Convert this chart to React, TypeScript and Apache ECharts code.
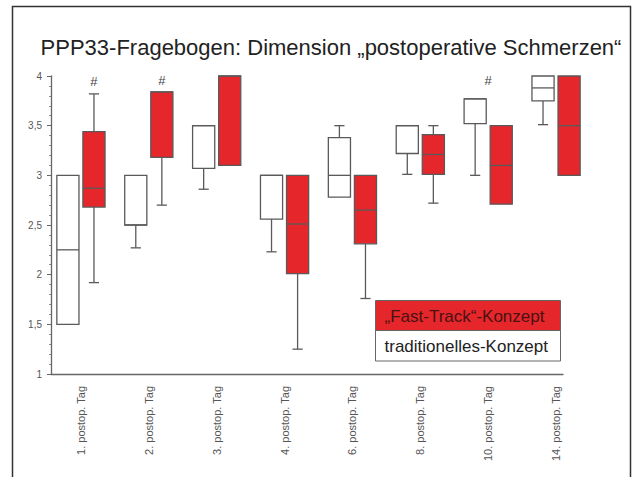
import React, { useEffect, useRef } from "react";
import * as echarts from "echarts";

const categories = [
  "1. postop. Tag",
  "2. postop. Tag",
  "3. postop. Tag",
  "4. postop. Tag",
  "6. postop. Tag",
  "8. postop. Tag",
  "10. postop. Tag",
  "14. postop. Tag",
];

// [min, q1, median, q3, max]
const traditionell = [
  [1.5, 1.5, 2.25, 3.0, 3.0],
  [2.27, 2.5, 2.5, 3.0, 3.0],
  [2.86, 3.07, 3.5, 3.5, 3.5],
  [2.23, 2.56, 3.0, 3.0, 3.0],
  [2.78, 2.78, 3.0, 3.38, 3.5],
  [3.01, 3.22, 3.5, 3.5, 3.5],
  [3.0, 3.52, 3.77, 3.77, 3.77],
  [3.51, 3.75, 3.88, 4.0, 4.0],
];

const fastTrack = [
  [1.92, 2.68, 2.87, 3.44, 3.82],
  [2.7, 3.18, 3.84, 3.84, 3.84],
  [3.1, 3.1, 4.0, 4.0, 4.0],
  [1.25, 2.01, 2.51, 3.0, 3.0],
  [1.76, 2.31, 2.65, 3.0, 3.0],
  [2.72, 3.01, 3.21, 3.41, 3.5],
  [2.71, 2.71, 3.1, 3.5, 3.5],
  [3.0, 3.0, 3.5, 4.0, 4.0],
];

// significance marks "#": category index, value, and which group they belong to
const hashCategories = [0, 1, 6];
const hashValues = [3.945, 3.955, 3.955];
const hashGroups = ["fast", "fast", "both"];

const yTicks = [1, 1.5, 2, 2.5, 3, 3.5, 4];

const RED = "#e5262b";
const STROKE = "#5a5a5a";

function makeBoxRender(side: number, fill: string) {
  return (params: any, api: any) => {
    const cat = api.value(0);
    const band = api.size([1, 0])[0];
    const cx = api.coord([cat, 1])[0] + side * band * 0.192;
    const ys = [1, 2, 3, 4, 5].map((i) => api.coord([cat, api.value(i)])[1]);
    const hw = band * 0.163;
    const cap = band * 0.075;
    const lineStyle = { stroke: STROKE, lineWidth: 1.3 };
    const children: any[] = [];
    if (Math.abs(ys[0] - ys[1]) > 0.5) {
      children.push({ type: "line", shape: { x1: cx, y1: ys[0], x2: cx, y2: ys[1] }, style: lineStyle });
      children.push({ type: "line", shape: { x1: cx - cap, y1: ys[0], x2: cx + cap, y2: ys[0] }, style: lineStyle });
    }
    if (Math.abs(ys[4] - ys[3]) > 0.5) {
      children.push({ type: "line", shape: { x1: cx, y1: ys[4], x2: cx, y2: ys[3] }, style: lineStyle });
      children.push({ type: "line", shape: { x1: cx - cap, y1: ys[4], x2: cx + cap, y2: ys[4] }, style: lineStyle });
    }
    children.push({
      type: "rect",
      shape: { x: cx - hw, y: ys[3], width: hw * 2, height: ys[1] - ys[3] },
      style: { fill, stroke: STROKE, lineWidth: 1.3 },
    });
    children.push({ type: "line", shape: { x1: cx - hw, y1: ys[2], x2: cx + hw, y2: ys[2] }, style: lineStyle });
    return { type: "group", children };
  };
}

export default function App() {
  const ref = useRef<HTMLDivElement>(null);
  useEffect(() => {
    if (!ref.current) return;
    const chart = echarts.init(ref.current, null, { renderer: "svg" });
    const tradData = traditionell.map((d, i) => [i, ...d]);
    const fastData = fastTrack.map((d, i) => [i, ...d]);
    const hashData = hashCategories.map((c, i) => [c, hashValues[i], hashGroups[i] === "fast" ? 1 : hashGroups[i] === "trad" ? -1 : 0]);

    chart.setOption({
      animation: false,
      backgroundColor: "#ffffff",
      grid: [
        { left: 47, right: 50, top: 76, bottom: 103 },
        { left: 51, right: 77, top: 76, bottom: 103 },
      ],
      xAxis: [
        {
          type: "category",
          gridIndex: 0,
          data: categories,
          axisLine: { show: false },
          axisTick: { show: false },
          axisLabel: {
            rotate: 90,
            fontSize: 11,
            color: "#555",
            margin: 12,
            fontFamily: "Liberation Sans",
          },
        },
        {
          type: "value",
          gridIndex: 1,
          min: 0,
          max: 1,
          axisLine: { show: true, onZero: false, lineStyle: { color: "#666", width: 1.3 } },
          axisTick: { show: false },
          axisLabel: { show: false },
          splitLine: { show: false },
        },
      ],
      yAxis: [
        {
          type: "value",
          gridIndex: 0,
          min: 1,
          max: 4,
          show: false,
        },
        {
          type: "value",
          gridIndex: 1,
          min: 1,
          max: 4,
          interval: 0.5,
          axisLine: { show: true, lineStyle: { color: "#666", width: 1.3 } },
          axisTick: { show: true, inside: false, length: 4, lineStyle: { color: "#666" } },
          minorTick: { show: true, splitNumber: 5, length: 2, lineStyle: { color: "#888" } },
          splitLine: { show: false },
          axisLabel: {
            fontSize: 10,
            color: "#555",
            margin: 9,
            fontFamily: "Liberation Sans",
            formatter: (v: number) => (yTicks.includes(v) ? String(v).replace(".", ",") : ""),
          },
        },
      ],
      series: [
        {
          name: "traditionelles-Konzept",
          type: "custom",
          xAxisIndex: 0,
          yAxisIndex: 0,
          data: tradData,
          encode: { x: 0, y: [1, 2, 3, 4, 5] },
          renderItem: makeBoxRender(-1, "#ffffff"),
        },
        {
          name: "„Fast-Track“-Konzept",
          type: "custom",
          xAxisIndex: 0,
          yAxisIndex: 0,
          data: fastData,
          encode: { x: 0, y: [1, 2, 3, 4, 5] },
          renderItem: makeBoxRender(1, RED),
        },
        {
          name: "Signifikanz",
          type: "custom",
          xAxisIndex: 0,
          yAxisIndex: 0,
          data: hashData,
          encode: { x: 0, y: 1 },
          renderItem: (params: any, api: any) => {
            const cat = api.value(0);
            const band = api.size([1, 0])[0];
            const p = api.coord([cat, api.value(1)]);
            return {
              type: "text",
              x: p[0] + api.value(2) * band * 0.192,
              y: p[1],
              style: {
                text: "#",
                fill: "#444",
                font: "13px 'Liberation Sans'",
                textAlign: "center",
                textVerticalAlign: "middle",
              },
            };
          },
        },
      ],
      graphic: [
        {
          type: "rect",
          shape: { x: 12.5, y: 6.5, width: 618, height: 520 },
          style: { fill: "none", stroke: "#333", lineWidth: 1.5 },
          z: 10,
        },
        {
          type: "text",
          x: 331,
          y: 47,
          style: {
            text: "PPP33-Fragebogen: Dimension „postoperative Schmerzen“",
            fill: "#222",
            font: "22px 'Liberation Sans'",
            textAlign: "center",
            textVerticalAlign: "middle",
          },
        },
        {
          type: "group",
          x: 375.5,
          y: 300.5,
          children: [
            { type: "rect", shape: { x: 0, y: 0, width: 185, height: 30 }, style: { fill: RED, stroke: "#666", lineWidth: 1 } },
            { type: "rect", shape: { x: 0, y: 30, width: 185, height: 30.5 }, style: { fill: "#fff", stroke: "#666", lineWidth: 1 } },
            {
              type: "text",
              x: 9,
              y: 15.5,
              style: { text: "„Fast-Track“-Konzept", fill: "#4a1212", font: "17px 'Liberation Sans'", textVerticalAlign: "middle" },
            },
            {
              type: "text",
              x: 9,
              y: 45.5,
              style: { text: "traditionelles-Konzept", fill: "#222", font: "17px 'Liberation Sans'", textVerticalAlign: "middle" },
            },
          ],
        },
      ],
    });
    return () => chart.dispose();
  }, []);
  return <div ref={ref} style={{ position: "fixed", left: 0, top: 0, width: 640, height: 477 }} />;
}
